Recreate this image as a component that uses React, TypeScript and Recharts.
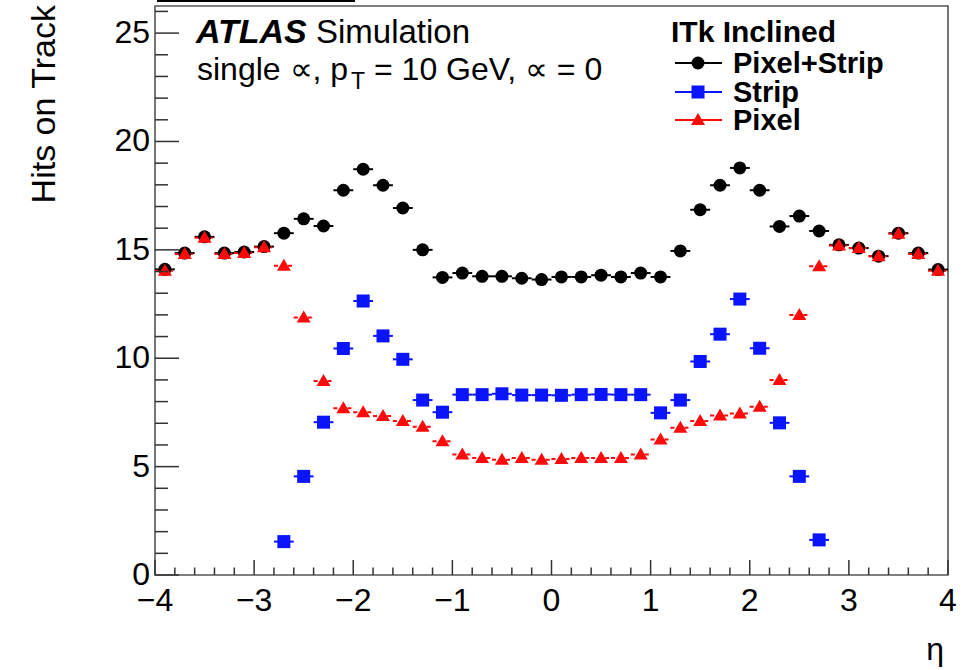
import React from 'react';
import { ScatterChart, Scatter, XAxis, YAxis, ErrorBar, ReferenceArea, Legend, Customized } from 'recharts';

// ---- data ----
const etaBins = [
  -3.9, -3.7, -3.5, -3.3, -3.1, -2.9, -2.7, -2.5, -2.3, -2.1,
  -1.9, -1.7, -1.5, -1.3, -1.1, -0.9, -0.7, -0.5, -0.3, -0.1,
  0.1, 0.3, 0.5, 0.7, 0.9, 1.1, 1.3, 1.5, 1.7, 1.9,
  2.1, 2.3, 2.5, 2.7, 2.9, 3.1, 3.3, 3.5, 3.7, 3.9,
];
const pixelStripHits = [
  14.1, 14.85, 15.6, 14.85, 14.9, 15.15, 15.77, 16.43, 16.1, 17.75,
  18.72, 17.98, 16.93, 15.0, 13.73, 13.93, 13.78, 13.78, 13.69, 13.63,
  13.75, 13.75, 13.83, 13.75, 13.93, 13.75, 14.95, 16.85, 17.98, 18.78,
  17.75, 16.08, 16.56, 15.87, 15.23, 15.08, 14.71, 15.77, 14.85, 14.09,
];
const stripHits: (number | null)[] = [
  null, null, null, null, null, null, 1.54, 4.55, 7.05, 10.45,
  12.64, 11.03, 9.95, 8.07, 7.51, 8.32, 8.32, 8.36, 8.3, 8.3,
  8.29, 8.32, 8.33, 8.32, 8.32, 7.48, 8.07, 9.85, 11.11, 12.73,
  10.46, 7.02, 4.55, 1.62, null, null, null, null, null, null,
];
const pixelHits = [
  14.04, 14.81, 15.56, 14.81, 14.86, 15.12, 14.27, 11.88, 8.95, 7.69,
  7.51, 7.33, 7.1, 6.84, 6.17, 5.56, 5.4, 5.32, 5.4, 5.32,
  5.35, 5.4, 5.4, 5.4, 5.56, 6.25, 6.79, 7.1, 7.36, 7.45,
  7.76, 9.0, 11.99, 14.24, 15.2, 15.08, 14.71, 15.74, 14.81, 14.04,
];
const binHalfWidth = 0.1;

const xTicks = [
  -4, -3.8, -3.6, -3.4, -3.2, -3, -2.8, -2.6, -2.4, -2.2,
  -2, -1.8, -1.6, -1.4, -1.2, -1, -0.8, -0.6, -0.4, -0.2,
  0, 0.2, 0.4, 0.6, 0.8, 1, 1.2, 1.4, 1.6, 1.8,
  2, 2.2, 2.4, 2.6, 2.8, 3, 3.2, 3.4, 3.6, 3.8, 4,
];
const xMajorTicks = [-4, -3, -2, -1, 0, 1, 2, 3, 4];
const yTicks = [0, 1, 2, 3, 4, 5, 6, 7, 8, 9, 10, 11, 12, 13, 14, 15, 16, 17, 18, 19, 20, 21, 22, 23, 24, 25, 26];
const yMajorTicks = [0, 5, 10, 15, 20, 25];
const xDomain = [-4, 4];
const yDomain = [0, 26.25];

const seriesNames = ['Pixel+Strip', 'Strip', 'Pixel'];
const legendTitle = 'ITk Inclined';

const FONT = '"Liberation Sans", Arial, Helvetica, sans-serif';
const BLACK = '#000000';
const BLUE = '#0a14ff';
const RED = '#ff0a0a';
const seriesColors = [BLACK, BLUE, RED];

function toPoints(values: (number | null)[]) {
  return etaBins
    .map((eta, i) => ({ eta, hits: values[i], xerr: binHalfWidth }))
    .filter((p) => p.hits !== null && p.hits !== undefined);
}

const dataPixelStrip = toPoints(pixelStripHits);
const dataStrip = toPoints(stripHits);
const dataPixel = toPoints(pixelHits);

const CircleMark = (p: any) => <circle cx={p.cx} cy={p.cy} r={6.5} fill={BLACK} />;
const SquareMark = (p: any) => <rect x={p.cx - 6.5} y={p.cy - 6.5} width={13} height={13} fill={BLUE} />;
const TriMark = (p: any) => (
  <polygon points={`${p.cx},${p.cy - 7} ${p.cx - 7},${p.cy + 5} ${p.cx + 7},${p.cy + 5}`} fill={RED} />
);

const isMajorX = (v: number) => xMajorTicks.some((m) => Math.abs(m - v) < 1e-6);

const XTick = (props: any) => {
  const { x, y, payload } = props;
  const v = payload.value as number;
  const major = isMajorX(v);
  const r = Math.round(v);
  const label = r < 0 ? `\u2212${Math.abs(r)}` : `${r}`;
  return (
    <g>
      <line x1={x} x2={x} y1={y} y2={y - (major ? 15 : 7.5)} stroke="#333" strokeWidth={1.5} />
      {major && (
        <text x={x} y={y + 36} textAnchor="middle" fontSize={32} fontFamily={FONT} fill="#000">
          {label}
        </text>
      )}
    </g>
  );
};

const YTick = (props: any) => {
  const { x, y, payload } = props;
  const v = payload.value as number;
  const major = yMajorTicks.includes(v);
  return (
    <g>
      <line x1={x} x2={x + (major ? 24 : 13)} y1={y} y2={y} stroke="#333" strokeWidth={1.5} />
      {major && (
        <text x={x - 5} y={y + 10} textAnchor="end" fontSize={32} fontFamily={FONT} fill="#000">
          {v}
        </text>
      )}
    </g>
  );
};

const Annotations = () => (
  <g fontFamily={FONT} fill="#000">
    <text x={196} y={43} fontSize={34} fontWeight="bold" fontStyle="italic">ATLAS</text>
    <text x={316} y={43} fontSize={33}>Simulation</text>
    <text x={197} y={80} fontSize={32}>
      {'single \u221D, p'}
      <tspan fontSize={23} dx={3} dy={9}>T</tspan>
      <tspan dy={-9}>{' = 10 GeV, \u221D = 0'}</tspan>
    </text>
    <text x={55} y={5} transform="rotate(-90 55 5)" textAnchor="end" fontSize={34}>Hits on Track</text>
    <text x={944} y={660} textAnchor="end" fontSize={32}>{'\u03B7'}</text>
  </g>
);

const legendMarks = [
  (cx: number, cy: number) => <circle cx={cx} cy={cy} r={6.5} fill={BLACK} />,
  (cx: number, cy: number) => <rect x={cx - 6.5} y={cy - 6.5} width={13} height={13} fill={BLUE} />,
  (cx: number, cy: number) => (
    <polygon points={`${cx},${cy - 7} ${cx - 7},${cy + 5} ${cx + 7},${cy + 5}`} fill={RED} />
  ),
];

const LegendBox = (props: any) => {
  const payload: any[] = props.payload || [];
  const rowsY = [63, 92, 120];
  return (
    <svg width={971} height={140} style={{ display: 'block' }}>
      <text x={671} y={42} fontSize={30} fontWeight="bold" fontFamily={FONT} fill="#000">{legendTitle}</text>
      {seriesNames.map((name, i) => {
        const entry = payload.find((e) => e && e.value === name);
        const color = entry && entry.color ? entry.color : seriesColors[i];
        const y = rowsY[i];
        return (
          <g key={name}>
            <line x1={675} x2={722} y1={y} y2={y} stroke={color} strokeWidth={2} />
            {legendMarks[i](698, y)}
            <text x={733} y={y + 10} fontSize={29} fontWeight="bold" fontFamily={FONT} fill="#000">{name}</text>
          </g>
        );
      })}
    </svg>
  );
};

export default function App() {
  return (
    <div style={{ position: 'absolute', left: 0, top: 0, width: 971, height: 670, background: '#fff' }}>
      <ScatterChart width={971} height={670} margin={{ top: 6, right: 23, bottom: 0, left: 0 }}>
        <XAxis
          type="number"
          dataKey="eta"
          domain={xDomain}
          ticks={xTicks}
          interval={0}
          allowDataOverflow
          height={95}
          tickSize={0}
          tickMargin={0}
          tickLine={false}
          axisLine={false}
          tick={(p: any) => <XTick {...p} />}
        />
        <YAxis
          type="number"
          dataKey="hits"
          domain={yDomain}
          ticks={yTicks}
          interval={0}
          allowDataOverflow
          width={155}
          tickSize={0}
          tickMargin={0}
          tickLine={false}
          axisLine={false}
          tick={(p: any) => <YTick {...p} />}
        />
        <ReferenceArea
          x1={xDomain[0]}
          x2={xDomain[1]}
          y1={yDomain[0]}
          y2={yDomain[1]}
          fill="none"
          fillOpacity={0}
          stroke="#555"
          strokeWidth={1.6}
        />
        <Scatter name={seriesNames[0]} data={dataPixelStrip} fill={BLACK} shape={CircleMark} isAnimationActive={false}>
          <ErrorBar dataKey="xerr" direction="x" width={0} stroke={BLACK} strokeWidth={2} isAnimationActive={false} />
        </Scatter>
        <Scatter name={seriesNames[1]} data={dataStrip} fill={BLUE} shape={SquareMark} isAnimationActive={false}>
          <ErrorBar dataKey="xerr" direction="x" width={0} stroke={BLUE} strokeWidth={2} isAnimationActive={false} />
        </Scatter>
        <Scatter name={seriesNames[2]} data={dataPixel} fill={RED} shape={TriMark} isAnimationActive={false}>
          <ErrorBar
            dataKey="xerr"
            direction="x"
            width={0}
            stroke={RED}
            strokeWidth={2}
            strokeDasharray="4 3"
            isAnimationActive={false}
          />
        </Scatter>
        <Legend
          layout="horizontal"
          verticalAlign="middle"
          align="center"
          wrapperStyle={{ left: 0, top: 0, width: 971, height: 140, pointerEvents: 'none' }}
          content={(p: any) => <LegendBox {...p} />}
        />
        <Customized component={<Annotations />} />
      </ScatterChart>
      <div style={{ position: 'absolute', left: 157, top: 0, width: 198, height: 2, background: '#000' }} />
    </div>
  );
}
